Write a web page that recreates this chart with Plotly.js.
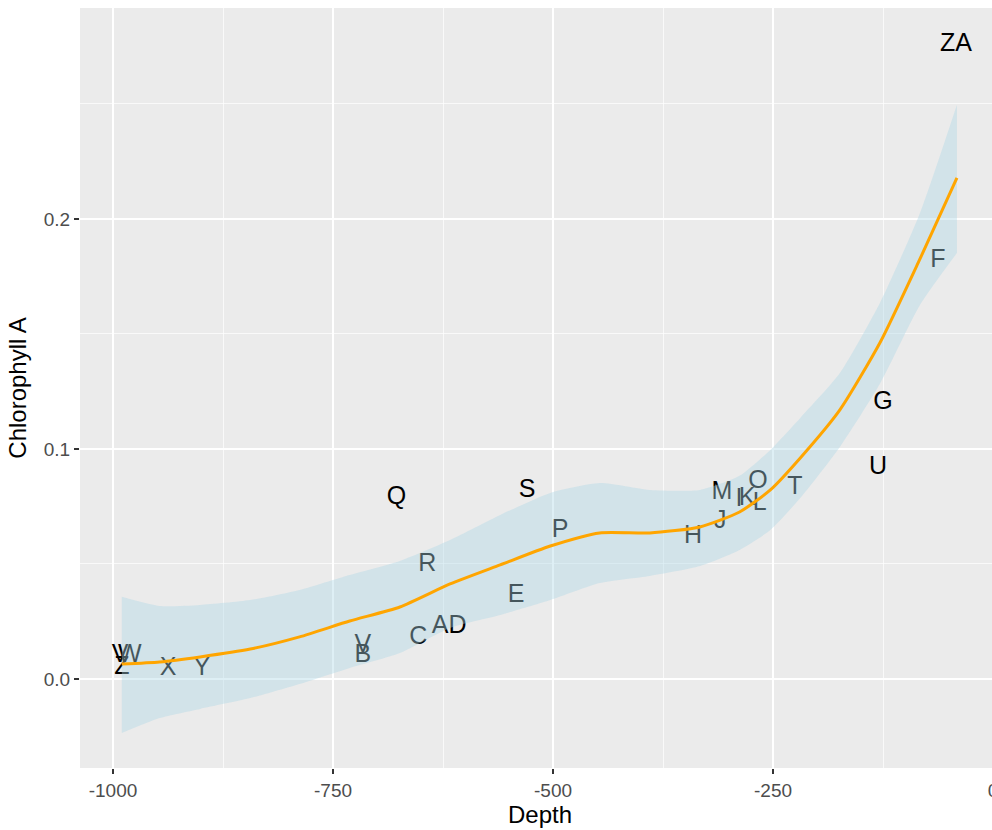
<!DOCTYPE html>
<html>
<head>
<meta charset="utf-8">
<script src="https://cdn.plot.ly/plotly-3.0.1.min.js"></script>
<style>html,body{margin:0;padding:0;background:#fff;overflow:hidden;}#chart{width:1000px;height:830px;}</style>
</head>
<body>
<div id="chart"></div>
<script>
// Labelled points
const labels = ["V","W","Z","X","Y","B","V","C","AD","R","Q","S","P","E","H","J","M","I","K","L","O","T","U","G","F","ZA"];
const depth = [-992,-981,-990,-937.5,-899,-716,-716,-653,-618,-643,-678,-529.5,-492,-542,-341,-310,-308,-288.6,-279.5,-265,-267,-225,-130.7,-125,-62.5,-42];
const chlA = [0.0100,0.0100,0.0048,0.0044,0.0044,0.0100,0.0144,0.0179,0.0226,0.0496,0.0787,0.0818,0.0644,0.0361,0.0618,0.0683,0.0809,0.0779,0.0783,0.0761,0.0857,0.0831,0.0918,0.1200,0.1818,0.2757];

// Smooth curve and its confidence band
const smoothX = [-990,-947,-901,-844,-788,-731,-674,-617,-560,-503,-447,-390,-333,-288,-253,-219,-174,-128,-83,-41];
const smoothY = [0.0065,0.0074,0.0096,0.0130,0.0183,0.0252,0.0313,0.0413,0.0496,0.0578,0.0635,0.0635,0.0661,0.0726,0.0822,0.0961,0.1170,0.1465,0.1826,0.2178];
const bandUpper = [0.0357,0.0317,0.0322,0.0343,0.0387,0.0452,0.0513,0.0604,0.0713,0.0809,0.0852,0.0822,0.0822,0.0883,0.0996,0.1135,0.1330,0.1639,0.2026,0.2496];
const bandLower = [-0.0235,-0.0170,-0.0130,-0.0083,-0.0022,0.0048,0.0113,0.0222,0.0278,0.0343,0.0417,0.0448,0.0491,0.0561,0.0648,0.0787,0.1009,0.1287,0.1626,0.1852];

const xTicks = [-1000,-750,-500,-250,0];
const yTicks = [0.0,0.1,0.2];

const font = "Liberation Sans, Arial, sans-serif";

const textTrace = {
  type: "scatter", mode: "text",
  x: depth, y: chlA, text: labels,
  textposition: "middle center",
  textfont: {family: font, size: 25, color: "#000000"},
  hoverinfo: "skip", showlegend: false
};
const lowerTrace = {
  type: "scatter", mode: "lines",
  x: smoothX, y: bandLower,
  line: {width: 0, color: "rgba(0,0,0,0)", shape: "spline", smoothing: 0.6},
  hoverinfo: "skip", showlegend: false
};
const upperTrace = {
  type: "scatter", mode: "lines",
  x: smoothX, y: bandUpper,
  fill: "tonexty", fillcolor: "rgba(173,216,230,0.4)",
  line: {width: 0, color: "rgba(0,0,0,0)", shape: "spline", smoothing: 0.6},
  hoverinfo: "skip", showlegend: false
};
const lineTrace = {
  type: "scatter", mode: "lines",
  x: smoothX, y: smoothY,
  line: {color: "#FFA500", width: 3, shape: "spline", smoothing: 0.6},
  hoverinfo: "skip", showlegend: false
};

const layout = {
  width: 1000, height: 830,
  margin: {l: 80, r: 0, t: 8, b: 62},
  paper_bgcolor: "#ffffff",
  plot_bgcolor: "#EBEBEB",
  showlegend: false,
  font: {family: font},
  xaxis: {
    range: [-1037.5, 7.95],
    tickvals: xTicks, ticktext: xTicks.map(String),
    showgrid: true, gridcolor: "#FFFFFF", gridwidth: 1.4,
    zeroline: false, showline: false,
    ticks: "outside", ticklen: 5, tickwidth: 1.2, tickcolor: "#333333",
    tickfont: {family: font, size: 19, color: "#4D4D4D"},
    minor: {tickvals: [-875,-625,-375,-125], showgrid: true, gridcolor: "#FFFFFF", gridwidth: 0.7, ticklen: 0},
    title: {text: "Depth", font: {family: font, size: 24, color: "#000000"}, standoff: 5},
    automargin: false
  },
  yaxis: {
    range: [-0.0387, 0.2917],
    tickvals: yTicks, ticktext: yTicks.map(v => v.toFixed(1)),
    showgrid: true, gridcolor: "#FFFFFF", gridwidth: 1.4,
    zeroline: false, showline: false,
    ticks: "outside", ticklen: 5, tickwidth: 1.2, tickcolor: "#333333",
    tickfont: {family: font, size: 19, color: "#4D4D4D"},
    minor: {tickvals: [0.05,0.15,0.25], showgrid: true, gridcolor: "#FFFFFF", gridwidth: 0.7, ticklen: 0},
    title: {text: "Chlorophyll A", font: {family: font, size: 24, color: "#000000"}, standoff: 10},
    automargin: false
  }
};

Plotly.newPlot("chart", [textTrace, lowerTrace, upperTrace, lineTrace], layout, {displayModeBar: false, staticPlot: true});
</script>
</body>
</html>
